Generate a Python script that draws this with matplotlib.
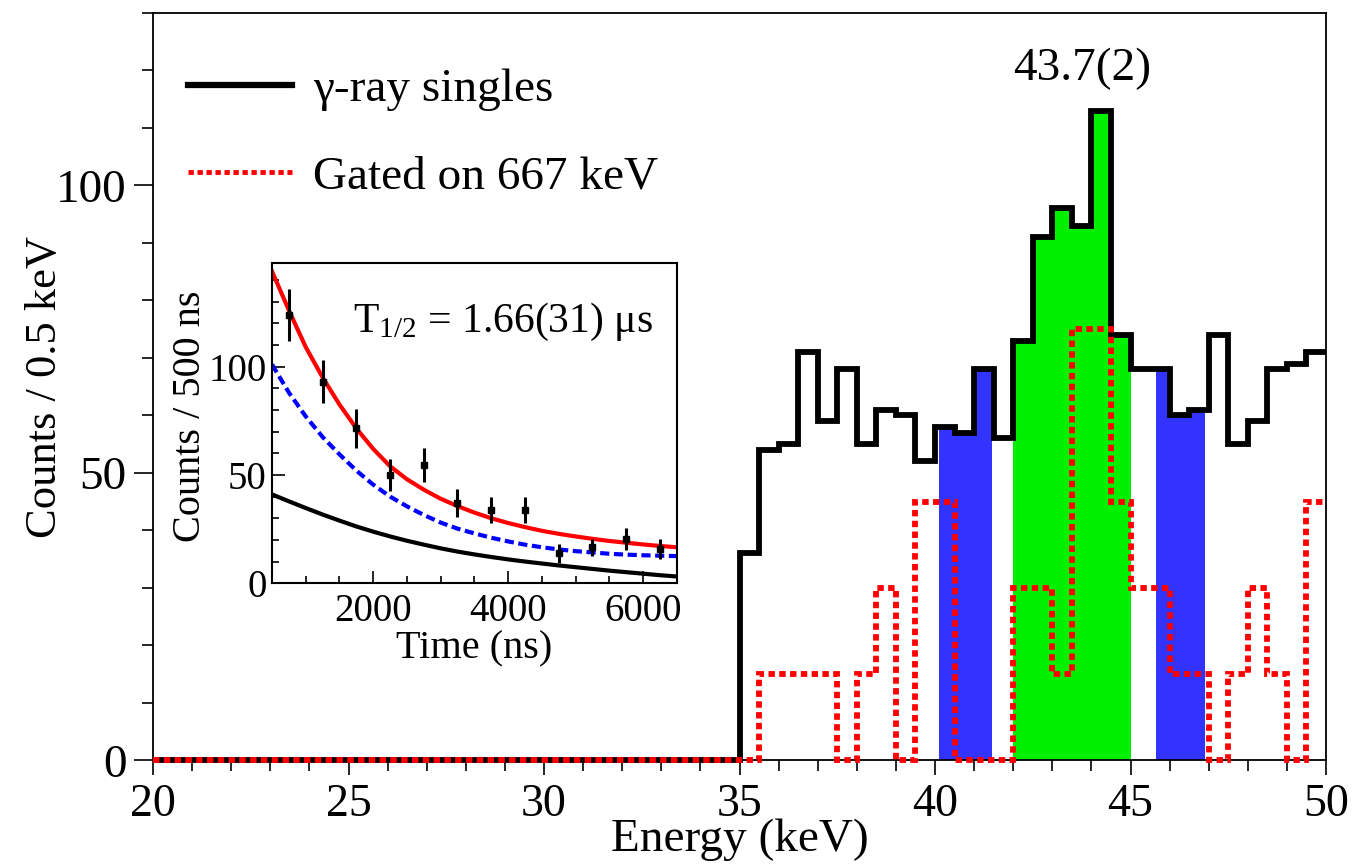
import numpy as np
import matplotlib
matplotlib.use('Agg')
import matplotlib.pyplot as plt
from matplotlib.lines import Line2D
from matplotlib.ticker import MultipleLocator

plt.rcParams['font.family'] = ['Liberation Serif', 'DejaVu Serif']
plt.rcParams['mathtext.fontset'] = 'custom'
plt.rcParams['mathtext.rm'] = 'Liberation Serif'
plt.rcParams['mathtext.it'] = 'Liberation Serif:italic'

# Main spectrum, 0.5 keV bins from 20 to 50 keV
bin_edges = np.arange(20.0, 50.01, 0.5)
singles_counts = [0] * 30 + [36, 54, 55, 71, 59, 68, 55, 61, 60, 52,
                             58, 57, 68, 56, 73, 91, 96, 93, 113, 74,
                             68, 68, 60, 61, 74, 55, 59, 68, 69, 71]
gated_counts = [0] * 30 + [0, 15, 15, 15, 15, 0, 15, 30, 0, 45,
                           45, 0, 0, 0, 30, 30, 15, 75, 75, 45,
                           30, 30, 15, 15, 0, 15, 30, 15, 0, 45]

# Shaded gates (keV)
peak_gate = (42.0, 45.0)
bg_gates = [(40.1, 41.45), (45.65, 46.9)]
peak_label = '43.7(2)'

# Inset: decay curve
time_ns = [750, 1250, 1750, 2250, 2750, 3250, 3750, 4250, 4750, 5250, 5750, 6250]
decay_counts = [124, 93, 71.5, 50, 54.6, 37, 34, 34, 13.8, 16.5, 20.3, 15.7]
decay_err = [12, 10, 9, 7.5, 8, 6.5, 6, 6, 4.5, 4, 5, 4.5]

fit_time = np.arange(500, 6501, 250)
fit_total = [144, 126, 109, 95, 82.5, 71.5, 62, 54, 48, 43.2, 39, 35.6, 32.6,
             30, 27.8, 25.9, 24.2, 22.8, 21.6, 20.5, 19.5, 18.7, 17.9, 17.2, 16.6]
fit_comp1 = [101, 88, 77, 67.5, 59.5, 52, 45.5, 40, 35.5, 31.5, 28, 25.2, 23,
             21, 19.3, 17.8, 16.6, 15.6, 14.8, 14.2, 13.6, 13.2, 12.9, 12.7, 12.5]
fit_comp2 = [41, 37.8, 34.7, 31.7, 28.9, 26.2, 23.8, 21.6, 19.6, 17.8, 16.1, 14.6, 13.3,
             12.1, 11, 10, 9.1, 8.2, 7.4, 6.6, 5.8, 5.1, 4.4, 3.7, 3.1]

RED_DASH = (0, (1.1, 0.75))


def fill_gate(ax, lo, hi, color):
    vals = np.asarray(singles_counts, dtype=float)
    inner = bin_edges[(bin_edges > lo) & (bin_edges < hi)]
    xs = np.concatenate([[lo], inner, [hi]])
    idx = np.searchsorted(bin_edges, xs[:-1], side='right') - 1
    ys = np.append(vals[idx], vals[idx][-1])
    ax.fill_between(xs, ys, step='post', color=color, lw=0, zorder=1)


fig = plt.figure(figsize=(13.67, 8.64), dpi=100)
ax = fig.add_axes([0.112, 0.120, 0.858, 0.865])

fill_gate(ax, peak_gate[0], peak_gate[1], '#00f000')
for lo, hi in bg_gates:
    fill_gate(ax, lo, hi, '#3333ff')

ax.stairs(singles_counts, bin_edges, baseline=None, color='black', lw=4.2,
          zorder=2, clip_on=False)
ax.stairs(gated_counts, bin_edges, baseline=None, color='#ff0000', lw=4.2,
          linestyle=RED_DASH, zorder=3, clip_on=False)

ax.text(43.76, 120.2, peak_label, fontsize=34, ha='center', va='center')

ax.set_xlim(20, 50)
ax.set_ylim(0, 130)
ax.xaxis.set_major_locator(MultipleLocator(5))
ax.xaxis.set_minor_locator(MultipleLocator(1))
ax.yaxis.set_major_locator(MultipleLocator(50))
ax.yaxis.set_minor_locator(MultipleLocator(10))
ax.tick_params(which='both', direction='out', top=False, right=False,
               labelsize=34, width=1.2)
ax.tick_params(axis='x', which='major', length=11, pad=6, labelsize=33)
ax.tick_params(axis='y', which='major', length=14, pad=5)
ax.tick_params(which='minor', length=8)
for s in ax.spines.values():
    s.set_linewidth(1.3)
ax.set_xlabel('Energy (keV)', fontsize=34, labelpad=-6)
ax.set_ylabel('Counts / 0.5 keV', fontsize=32)
ax.yaxis.set_label_coords(-0.075, 0.5)

handles = [Line2D([], [], color='black', lw=4.5),
           Line2D([], [], color='#ff0000', lw=3.5, linestyle=(0, (1.1, 0.75)))]
ax.legend(handles, ['\u03b3-ray singles', 'Gated on 667 keV'], loc='upper left',
          bbox_to_anchor=(188 / 1367, 1 - 68 / 864), bbox_transform=fig.transFigure,
          frameon=False, fontsize=34, handlelength=2.2, handletextpad=0.45,
          labelspacing=0.95, borderpad=0, borderaxespad=0)

# Inset decay curve
ins = fig.add_axes([0.199, 0.325, 0.296, 0.371])
ins.set_facecolor('white')
ins.plot(fit_time, fit_comp2, color='black', lw=3)
ins.plot(fit_time, fit_comp1, color='#0000ff', lw=3, linestyle=(0, (2.2, 1.1)))
ins.plot(fit_time, fit_total, color='#ff0000', lw=3)
ins.errorbar(time_ns, decay_counts, yerr=decay_err, fmt='s', color='black',
             ms=5, elinewidth=2.2, capsize=0, zorder=5)
ins.text(0.2, 0.815, r'T$_{1/2}$ = 1.66(31) $\mathrm{\mu}$s', transform=ins.transAxes,
         fontsize=30, ha='left', va='center')
ins.set_xlim(500, 6500)
ins.set_ylim(0, 148)
ins.xaxis.set_major_locator(MultipleLocator(2000))
ins.xaxis.set_minor_locator(MultipleLocator(500))
ins.yaxis.set_major_locator(MultipleLocator(50))
ins.yaxis.set_minor_locator(MultipleLocator(10))
ins.tick_params(which='both', direction='in', top=False, right=False,
                labelsize=28, width=1.2)
ins.tick_params(which='major', length=9, pad=7)
ins.tick_params(axis='y', which='major', pad=4)
ins.tick_params(which='minor', length=5)
for s in ins.spines.values():
    s.set_linewidth(1.5)
ins.set_xlabel('Time (ns)', fontsize=29, labelpad=0)
ins.set_ylabel('Counts / 500 ns', fontsize=29)
ins.yaxis.set_label_coords(-0.155, 0.52)

fig.savefig('out.png', dpi=100)
